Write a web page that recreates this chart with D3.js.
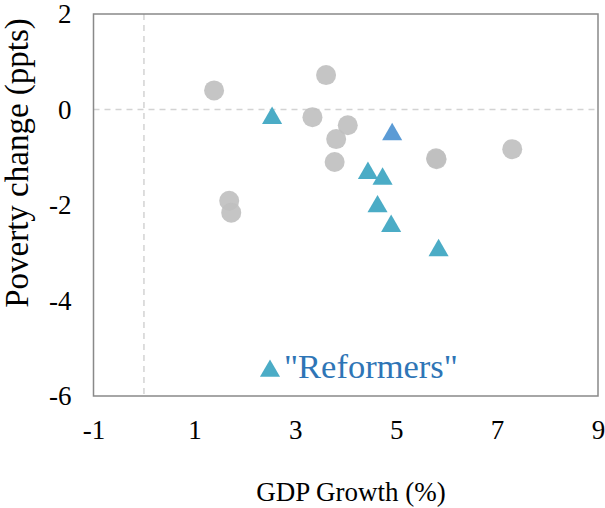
<!DOCTYPE html>
<html>
<head>
<meta charset="utf-8">
<script src="https://cdn.jsdelivr.net/npm/d3@7"></script>
<style>
  html, body { margin: 0; padding: 0; background: #fff; }
  text { font-family: "Liberation Serif", "Times New Roman", serif; }
</style>
</head>
<body>
<svg id="chart" width="605" height="508"></svg>
<script>
// Data
const otherGrowth  = [1.39, 3.61, 3.34, 4.04, 3.81, 3.78, 5.80, 5.79, 7.30, 1.69, 1.73];
const otherPoverty = [0.40, 0.72, -0.16, -0.33, -0.62, -1.10, -1.04, -1.02, -0.83, -1.91, -2.16];
const reformGrowth  = [2.54, 4.44, 4.73, 4.63, 4.90, 5.84];
const reformPoverty = [-0.14, -1.29, -1.41, -1.99, -2.40, -2.91];
const highlightGrowth  = [4.92];
const highlightPoverty = [-0.48];
const xTicks = [-1, 1, 3, 5, 7, 9];
const yTicks = [2, 0, -2, -4, -6];
const legendLabel = '"Reformers"';

const svg = d3.select("#chart");
const x = d3.scaleLinear().domain([-1, 9]).range([93.5, 598]);
const y = d3.scaleLinear().domain([-6, 2]).range([396, 14]);
const fmt = d => String(d);

// reference lines
svg.append("line").attr("x1", x(0)).attr("x2", x(0)).attr("y1", y(2)).attr("y2", y(-6))
  .attr("stroke", "#d3d3d3").attr("stroke-width", 1.5).attr("stroke-dasharray", "6,5");
svg.append("line").attr("x1", x(-1)).attr("x2", x(9)).attr("y1", y(0)).attr("y2", y(0))
  .attr("stroke", "#d3d3d3").attr("stroke-width", 1.5).attr("stroke-dasharray", "6,5");

// frame
svg.append("rect").attr("x", x(-1)).attr("y", y(2)).attr("width", x(9) - x(-1)).attr("height", y(-6) - y(2))
  .attr("fill", "none").attr("stroke", "#898989").attr("stroke-width", 1.5);

// axes
const xAxis = svg.append("g").attr("transform", `translate(0,${y(-6)})`)
  .call(d3.axisBottom(x).tickValues(xTicks).tickSize(0).tickPadding(24).tickFormat(fmt));
xAxis.select(".domain").remove();
xAxis.selectAll("text").attr("font-size", 27).attr("fill", "#000")
  .style("font-family", '"Liberation Serif", serif');

const yAxis = svg.append("g").attr("transform", `translate(${x(-1)},0)`)
  .call(d3.axisLeft(y).tickValues(yTicks).tickSize(0).tickPadding(22).tickFormat(fmt));
yAxis.select(".domain").remove();
yAxis.selectAll("text").attr("font-size", 27).attr("fill", "#000")
  .style("font-family", '"Liberation Serif", serif');

// axis titles
svg.append("text").attr("x", 351).attr("y", 501).attr("text-anchor", "middle")
  .attr("font-size", 27).attr("fill", "#000").text("GDP Growth (%)");
svg.append("text").attr("transform", "translate(28,163) rotate(-90)").attr("text-anchor", "middle")
  .attr("font-size", 33).attr("fill", "#000").text("Poverty change (ppts)");

// points
const others = otherGrowth.map((g, i) => ({g, p: otherPoverty[i]}));
svg.append("g").selectAll("circle").data(others).join("circle")
  .attr("cx", d => x(d.g)).attr("cy", d => y(d.p)).attr("r", 10)
  .attr("fill", "#bfbfbf").attr("fill-opacity", 0.9);

const tri = d3.symbol().type(d3.symbolTriangle).size(175);
const reform = reformGrowth.map((g, i) => ({g, p: reformPoverty[i]}));
svg.append("g").selectAll("path").data(reform).join("path")
  .attr("d", tri).attr("transform", d => `translate(${x(d.g)},${y(d.p) + 2})`)
  .attr("fill", "#4bacc6");

const hi = highlightGrowth.map((g, i) => ({g, p: highlightPoverty[i]}));
svg.append("g").selectAll("path").data(hi).join("path")
  .attr("d", tri).attr("transform", d => `translate(${x(d.g)},${y(d.p) + 2})`)
  .attr("fill", "#5b9bd5");

// legend
svg.append("path").attr("d", tri).attr("transform", "translate(270,371)").attr("fill", "#4bacc6");
svg.append("text").attr("x", 284).attr("y", 378).attr("font-size", 34.5).attr("fill", "#2e75b6").text(legendLabel);
</script>
</body>
</html>
